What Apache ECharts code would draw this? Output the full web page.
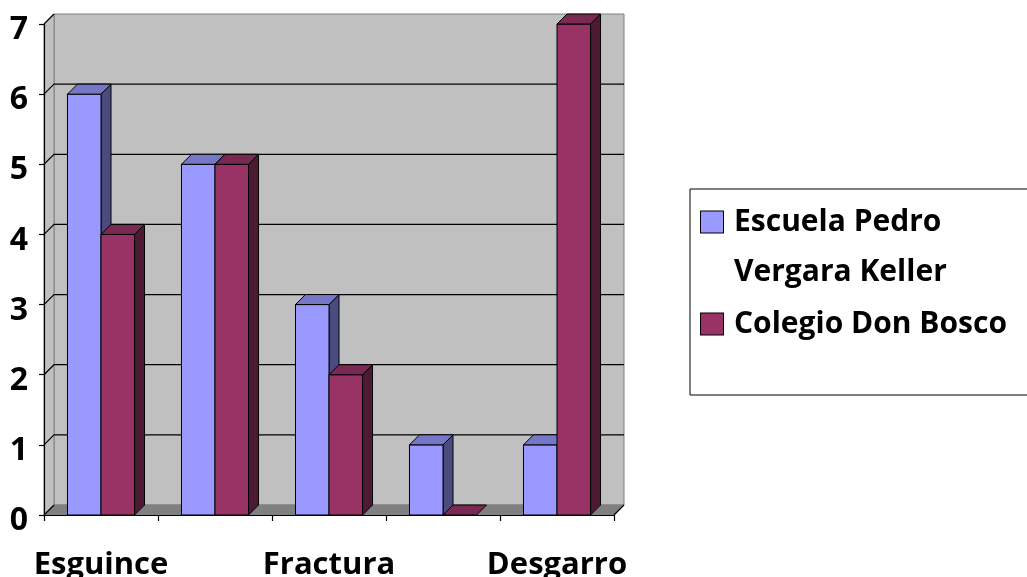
<!DOCTYPE html>
<html>
<head>
<meta charset="utf-8">
<script src="https://cdn.jsdelivr.net/npm/echarts@6/dist/echarts.min.js"></script>
<style>
  html, body { margin: 0; padding: 0; background: #fff; }
  #main { width: 1027px; height: 577px; }
</style>
</head>
<body>
<div id="main"></div>
<script>
var categories = ['Esguince', '', 'Fractura', '', 'Desgarro'];
var escuela = [6, 5, 3, 1, 1];
var colegio = [4, 5, 2, 0, 7];
var yTicks = [0, 1, 2, 3, 4, 5, 6, 7];
var nameEscuela = 'Escuela Pedro Vergara Keller';
var nameColegio = 'Colegio Don Bosco';

var DEPTH = 10;
var FONT = '"Open Sans", "Noto Sans", sans-serif';

// colores de cada cara (frente, arriba, lado)
var faces = {
    escuela: { front: '#9999FF', top: '#7777C8', side: '#4B4B80' },
    colegio: { front: '#993366', top: '#7A2952', side: '#4D1A33' }
};

function toPairs(arr) {
    return arr.map(function(v, i) { return [i, v]; });
}

function barRenderer(left, c) {
    return function(params, api) {
        var idx = api.value(0), val = api.value(1);
        var pTop = api.coord([idx, val]);
        var pBase = api.coord([idx, 0]);
        var bw = api.size([1, 0])[0] * 0.294;
        var x0 = left ? pTop[0] - bw : pTop[0];
        var x1 = x0 + bw;
        var yt = pTop[1], yb = pBase[1];
        var d = DEPTH;
        var stroke = { stroke: '#000', lineWidth: 1 };
        var children = [];
        if (yb - yt > 0.5) {
            children.push({
                type: 'polygon',
                shape: { points: [[x1, yt], [x1 + d, yt - d], [x1 + d, yb - d], [x1, yb]] },
                style: Object.assign({ fill: c.side }, stroke)
            });
            children.push({
                type: 'rect',
                shape: { x: x0, y: yt, width: bw, height: yb - yt },
                style: Object.assign({ fill: c.front }, stroke)
            });
        }
        children.push({
            type: 'polygon',
            shape: { points: [[x0, yt], [x1, yt], [x1 + d, yt - d], [x0 + d, yt - d]] },
            style: Object.assign({ fill: c.top }, stroke)
        });
        return { type: 'group', children: children };
    };
}

function wallRenderer(params, api) {
    var cs = params.coordSys;
    var x = cs.x, y = cs.y, w = cs.width, h = cs.height, d = DEPTH;
    var children = [];
    children.push({
        type: 'rect',
        shape: { x: x + d, y: y - d, width: w, height: h },
        style: { fill: '#C0C0C0', stroke: '#808080', lineWidth: 1 }
    });
    children.push({
        type: 'polygon',
        shape: { points: [[x, y], [x + d, y - d], [x + d, y + h - d], [x, y + h]] },
        style: { fill: '#C0C0C0', stroke: '#808080', lineWidth: 1 }
    });
    children.push({
        type: 'polygon',
        shape: { points: [[x, y + h], [x + d, y + h - d], [x + w + d, y + h - d], [x + w, y + h]] },
        style: { fill: '#808080', stroke: '#808080', lineWidth: 1 }
    });
    yTicks.forEach(function(v) {
        var py = api.coord([0, v])[1];
        var pts = v === 0 || v === yTicks[yTicks.length - 1]
            ? [[x, py], [x + d, py - d]]
            : [[x, py], [x + d, py - d], [x + w + d, py - d]];
        children.push({
            type: 'polyline',
            shape: { points: pts },
            style: { stroke: '#000', lineWidth: 1.2, fill: null }
        });
    });
    children.push({
        type: 'line',
        shape: { x1: x + w, y1: y + h, x2: x + w + d, y2: y + h - d },
        style: { stroke: '#000', lineWidth: 1.2 }
    });
    return { type: 'group', children: children };
}

var chart = echarts.init(document.getElementById('main'), null, { renderer: 'canvas' });

var iconBox = { width: 22, height: 21, borderColor: '#000', borderWidth: 1, verticalAlign: 'middle' };

var option = {
    animation: false,
    backgroundColor: '#fff',
    color: [faces.escuela.front, faces.colegio.front],
    grid: { left: 44, right: 413, top: 24, bottom: 62, containLabel: false, outerBoundsMode: 'none' },
    legend: {
        orient: 'vertical',
        left: 690,
        top: 189,
        padding: [8, 40, 46, 6],
        itemWidth: 0,
        itemHeight: 0,
        itemGap: 2,
        borderColor: '#000',
        borderWidth: 1,
        backgroundColor: '#fff',
        icon: 'rect',
        itemStyle: { color: 'rgba(0,0,0,0)', borderWidth: 0 },
        textStyle: {
            fontFamily: FONT, fontWeight: 'bold', fontSize: 30, color: '#000', lineHeight: 50,
            rich: {
                b: Object.assign({ backgroundColor: faces.escuela.front }, iconBox),
                r: Object.assign({ backgroundColor: faces.colegio.front }, iconBox),
                gap: { width: 11 },
                sp: { width: 33 },
                t: { fontFamily: FONT, fontWeight: 'bold', fontSize: 30, color: '#000', lineHeight: 50 }
            }
        },
        formatter: function(name) {
            if (name === nameEscuela) {
                return '{b|}{gap|}{t|Escuela Pedro}\n{sp|}{t|Vergara Keller}';
            }
            return '{r|}{gap|}{t|' + name + '}';
        },
        data: [nameEscuela, nameColegio]
    },
    xAxis: {
        type: 'category',
        data: categories,
        z: 5,
        axisLine: { show: true, lineStyle: { color: '#000', width: 1.2 } },
        axisTick: { show: true, interval: 0, length: 6, lineStyle: { color: '#000', width: 1.2 } },
        axisLabel: {
            interval: 0, margin: 35, color: '#000',
            fontFamily: FONT, fontWeight: 'bold', fontSize: 31
        },
        splitLine: { show: false }
    },
    yAxis: {
        type: 'value',
        min: 0,
        max: 7,
        interval: 1,
        z: 5,
        axisLine: { show: true, lineStyle: { color: '#000', width: 1.2 } },
        axisTick: { show: true, length: 5, lineStyle: { color: '#000', width: 1.2 } },
        axisLabel: {
            margin: 16, color: '#000', verticalAlign: 'top', lineHeight: 12,
            fontFamily: FONT, fontWeight: 'bold', fontSize: 32
        },
        splitLine: { show: false }
    },
    series: [
        {
            name: 'walls',
            type: 'custom',
            z: 1,
            silent: true,
            renderItem: wallRenderer,
            data: [[0, 0]],
            encode: { x: 0, y: 1 }
        },
        {
            name: nameEscuela,
            type: 'custom',
            z: 2,
            itemStyle: { color: faces.escuela.front },
            renderItem: barRenderer(true, faces.escuela),
            data: toPairs(escuela),
            encode: { x: 0, y: 1 }
        },
        {
            name: nameColegio,
            type: 'custom',
            z: 3,
            itemStyle: { color: faces.colegio.front },
            renderItem: barRenderer(false, faces.colegio),
            data: toPairs(colegio),
            encode: { x: 0, y: 1 }
        }
    ]
};

chart.setOption(option);
</script>
</body>
</html>
